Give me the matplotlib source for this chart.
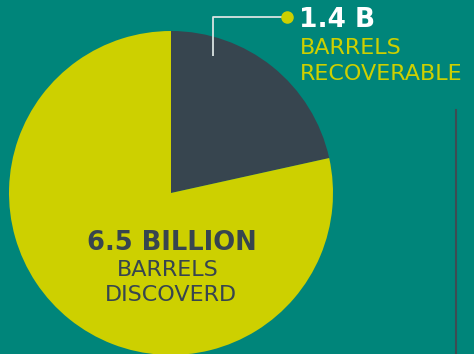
import matplotlib
matplotlib.use("Agg")
import matplotlib.pyplot as plt

# Data
labels = ["Recoverable", "Discovered (remaining)"]
total_discovered = 6.5   # billion barrels
recoverable = 1.4        # billion barrels
values = [recoverable, total_discovered - recoverable]
colors = ["#37454F", "#CDD000"]

BG = "#00857A"
W, H = 474, 354

fig = plt.figure(figsize=(W / 100, H / 100), dpi=100, facecolor=BG)
ax = fig.add_axes([0, 0, 1, 1])
ax.set_facecolor(BG)

cx, cy, r = 171, H - 193, 162
ax.pie(values, colors=colors, startangle=90, counterclock=False,
       center=(cx, cy), radius=r, wedgeprops=dict(linewidth=0))
ax.set_xlim(0, W)
ax.set_ylim(0, H)
ax.set_aspect("auto")
ax.axis("off")

# callout line
ax.plot([213, 213, 283], [H - 56, H - 17, H - 17], color="#D9E3E2", lw=1.3,
        solid_capstyle="butt", zorder=3)
ax.plot([287], [H - 17], "o", color="#CDD000", ms=8, zorder=4)

ax.text(299, H - 20, f"{recoverable} B", color="white", fontsize=19,
        fontweight="bold", family="DejaVu Sans", ha="left", va="center")
ax.text(300, H - 48, "BARRELS", color="#CDD000", fontsize=16,
        family="DejaVu Sans", ha="left", va="center")
ax.text(300, H - 74, "RECOVERABLE", color="#CDD000", fontsize=16,
        family="DejaVu Sans", ha="left", va="center")

# vertical divider
ax.plot([456, 456], [H - 110, 0], color="#3E4C52", lw=1.5)

ax.text(172, H - 243, f"{total_discovered} BILLION", color="#37454F",
        fontsize=18.5, fontweight="bold", family="DejaVu Sans",
        ha="center", va="center")
ax.text(168, H - 270, "BARRELS", color="#37454F", fontsize=16,
        family="DejaVu Sans", ha="center", va="center")
ax.text(171, H - 295, "DISCOVERD", color="#37454F", fontsize=16,
        family="DejaVu Sans", ha="center", va="center")

fig.savefig("out.png", dpi=100, facecolor=BG)
